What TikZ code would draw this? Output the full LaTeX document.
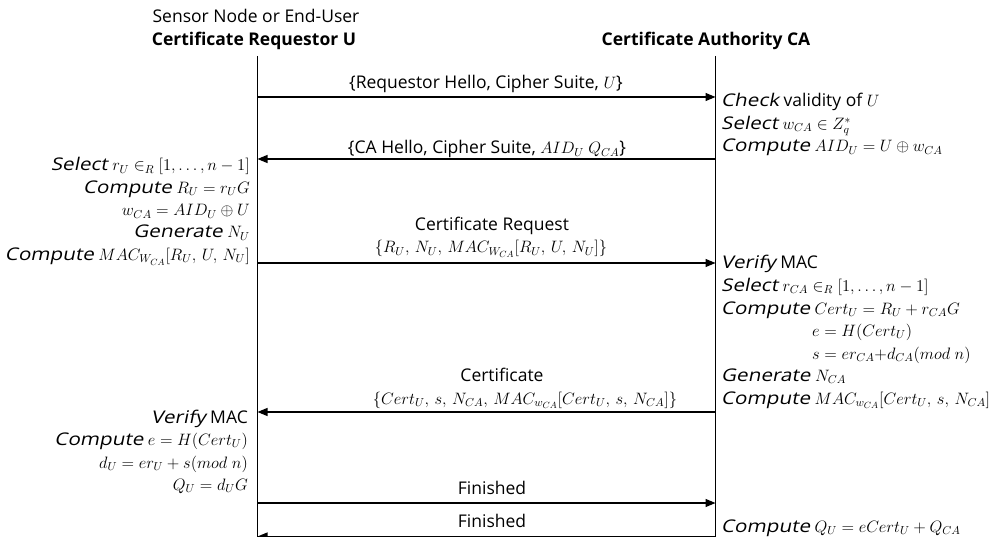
\RequirePackage{fix-cm}
\documentclass[tikz,border=0pt]{standalone}
\usepackage{amsmath}
\usepackage{fontspec}
% regular weight, slanted and slightly widened for the emphasised verbs
\setmainfont{Open Sans}[ItalicFont={Open Sans},
  ItalicFeatures={FakeSlant=0.2, FakeStretch=1.18}]
\usetikzlibrary{arrows.meta}
% math a little smaller than the surrounding text
\DeclareMathSizes{17.5}{16.5}{11.5}{9}

\begin{document}
\begin{tikzpicture}[x=1pt,y=-1pt,
  txt/.style={font=\fontsize{17.5}{21}\selectfont, inner sep=0pt, text=black},
  hdr/.style={txt, font=\fontsize{17.5}{21}\selectfont\bfseries},
  lifeline/.style={line width=1.2pt, black},
  msg/.style={line width=1.2pt, black, -{Triangle[length=10pt,width=8pt]}},
  rblock/.style={txt, anchor=base east},
  lblock/.style={txt, anchor=base west},
  mlabel/.style={txt, anchor=base}]

\useasboundingbox (0,0) rectangle (998,537);

% Party headers
\node[txt, anchor=base] (uSub) at (256,22.5) {Sensor Node or End-User};
\node[hdr, anchor=base] (uHead) at (254,46) {Certificate Requestor U};
\node[hdr, anchor=base] (caHead) at (706,46) {Certificate Authority CA};

% Lifelines
\coordinate (uTop) at (257.5,56);
\coordinate (uBot) at (257.5,540);
\coordinate (caTop) at (715.5,56);
\coordinate (caBot) at (715.5,540);
\draw[lifeline] (uTop) -- (uBot);
\draw[lifeline] (caTop) -- (caBot);

% Message end points on the lifelines
\coordinate (u1) at (257.5,97);   \coordinate (c1) at (715.5,97);
\coordinate (u2) at (257.5,159);  \coordinate (c2) at (715.5,159);
\coordinate (u3) at (257.5,263);  \coordinate (c3) at (715.5,263);
\coordinate (u4) at (257.5,412);  \coordinate (c4) at (715.5,412);
\coordinate (u5) at (257.5,503);  \coordinate (c5) at (715.5,503);
\coordinate (u6) at (257.5,536.5);\coordinate (c6) at (715.5,536.5);

% Messages
\draw[msg] (u1) -- (c1);
\node[mlabel] (m1) at (486,89) {\{Requestor Hello, Cipher Suite, $U$\}};

\draw[msg] (c2) -- (u2);
\node[mlabel] (m2) at (487,154) {\{CA Hello, Cipher Suite, $AID_U\ Q_{CA}$\}};

\draw[msg] (u3) -- (c3);
\node[mlabel] (m3a) at (492,231) {Certificate Request};
\node[mlabel] (m3b) at (491,253) {$\{R_U,\,N_U,\,MAC_{W_{CA}}[R_U,\,U,\,N_U]\}$};

\draw[msg] (c4) -- (u4);
\node[mlabel] (m4a) at (502,381.5) {Certificate};
\node[mlabel] (m4b) at (525,404) {$\{Cert_U,\,s,\,N_{CA},\,MAC_{w_{CA}}[Cert_U,\,s,\,N_{CA}]\}$};

\draw[msg] (u5) -- (c5);
\node[mlabel] (m5) at (492,494) {Finished};

\draw[msg] (c6) -- (u6);
\node[mlabel] (m6) at (492,527) {Finished};

% Computations at the CA after the hello
\node[lblock] (ca1) at (721,107) {\textit{Check} validity of $U$};
\node[lblock] (ca2) at (721,129.5) {\textit{Select} $w_{CA} \in Z_q^*$};
\node[lblock] (ca3) at (721,152) {\textit{Compute} $AID_U = U \oplus w_{CA}$};

% Computations at the requestor
\node[rblock] (u11) at (250,171) {\textit{Select} $r_U \in_R [1,\ldots,n-1]$};
\node[rblock] (u12) at (250,193.5) {\textit{Compute} $R_U = r_U G$};
\node[rblock] (u13) at (250,216) {$w_{CA} = AID_U \oplus U$};
\node[rblock] (u14) at (250,238) {\textit{Generate} $N_U$};
\node[rblock] (u15) at (250,260.5) {\textit{Compute} $MAC_{W_{CA}}[R_U,\,U,\,N_U]$};

% Certificate generation at the CA
\node[lblock] (ca4) at (721,269) {\textit{Verify} MAC};
\node[lblock] (ca5) at (721,291.5) {\textit{Select} $r_{CA} \in_R [1,\ldots,n-1]$};
\node[lblock] (ca6) at (721,314) {\textit{Compute} $Cert_U = R_U + r_{CA}G$};
\node[lblock] (ca7) at (812,336.5) {$e = H(Cert_U)$};
\node[lblock] (ca8) at (812,359) {$s = er_{CA}{+}d_{CA}(mod\ n)$};
\node[lblock] (ca9) at (721,381.5) {\textit{Generate} $N_{CA}$};
\node[lblock] (ca10) at (721,404) {\textit{Compute} $MAC_{w_{CA}}[Cert_U,\,s,\,N_{CA}]$};

% Key derivation at the requestor
\node[rblock] (u21) at (248,423) {\textit{Verify} MAC};
\node[rblock] (u22) at (248,445.5) {\textit{Compute} $e = H(Cert_U)$};
\node[rblock] (u23) at (248,468) {$d_U = er_U + s(mod\ n)$};
\node[rblock] (u24) at (248,490.5) {$Q_U = d_U G$};

% Public key reconstruction at the CA
\node[lblock] (ca11) at (721,532) {\textit{Compute} $Q_U = eCert_U + Q_{CA}$};

\end{tikzpicture}
\end{document}
